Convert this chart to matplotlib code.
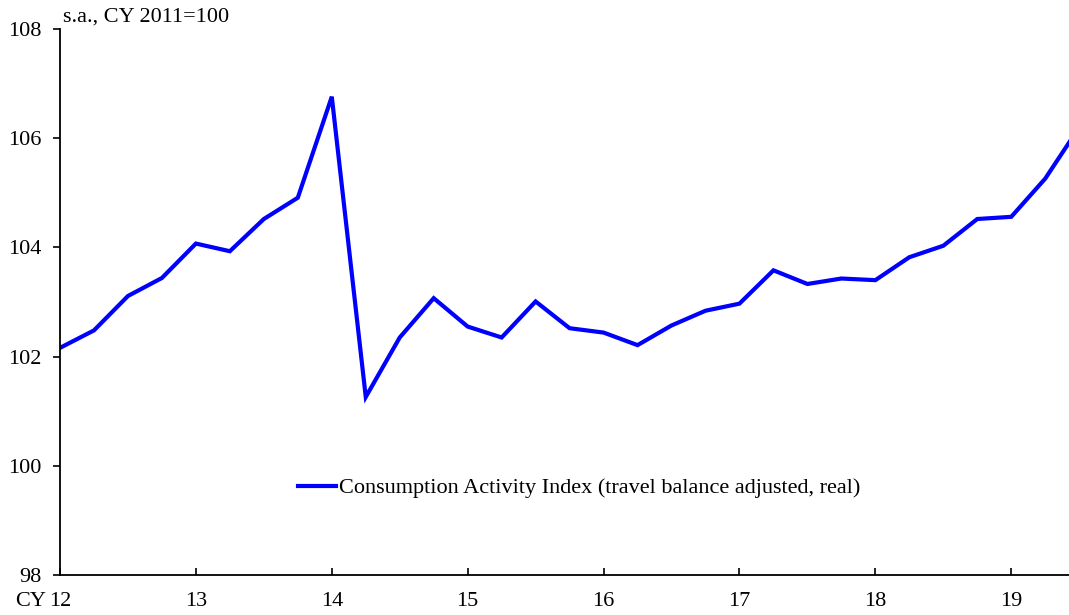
import matplotlib
matplotlib.use("Agg")
import matplotlib.pyplot as plt

# Quarterly index values, 2012 Q1 .. 2019 Q3 (s.a., CY 2011=100)
values = [102.16, 102.48, 103.11, 103.44,
          104.07, 103.93, 104.52, 104.91,
          106.76, 101.26, 102.35, 103.07,
          102.55, 102.35, 103.01, 102.52,
          102.44, 102.21, 102.57, 102.84,
          102.97, 103.58, 103.33, 103.43,
          103.40, 103.82, 104.03, 104.52,
          104.56, 105.26, 106.20]
year_labels = ["12", "13", "14", "15", "16", "17", "18", "19"]
series_name = "Consumption Activity Index (travel balance adjusted, real)"
unit_note = "s.a., CY 2011=100"

plt.rcParams['font.family'] = ['Liberation Serif', 'DejaVu Serif']
plt.rcParams['font.size'] = 16

fig = plt.figure(figsize=(10.69, 6.15), dpi=100)
ax = fig.add_axes([60 / 1069, 40 / 615, 1 - 60 / 1069, 546 / 615])

x = list(range(len(values)))
ax.plot(x, values, color="#0000ff", lw=3, label=series_name, solid_joinstyle="miter")

ax.set_xlim(0, 29.7)
ax.set_ylim(98, 108)
ax.set_yticks([98, 100, 102, 104, 106, 108])
ax.set_xticks([4 * i for i in range(len(year_labels))])
ax.set_xticklabels(year_labels)

ax.spines["top"].set_visible(False)
ax.spines["right"].set_visible(False)
ax.spines["left"].set_linewidth(1.3)
ax.spines["bottom"].set_linewidth(1.3)
ax.tick_params(axis="y", direction="out", length=5, width=1.2, pad=8, labelsize=16)
ax.tick_params(axis="x", direction="in", length=5, width=1.2, pad=12, labelsize=16)

# "CY" prefix before the first year label
ax.annotate("CY", xy=(0, 0), xycoords=("data", "axes fraction"),
            xytext=(-10, -12), textcoords="offset points",
            ha="right", va="top", fontsize=16)

fig.text(63 / 1069, 1 - 17 / 615, unit_note, ha="left", va="center", fontsize=16)

ax.legend(loc="center left", bbox_to_anchor=(0.236, 0.159), frameon=False,
          borderpad=0, borderaxespad=0, handlelength=1.7, handletextpad=0.12,
          fontsize=16)

fig.savefig("out.png", dpi=100)
